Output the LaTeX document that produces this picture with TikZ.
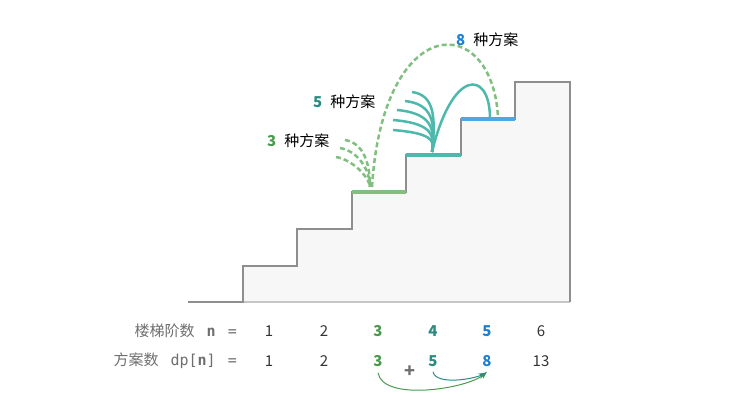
\documentclass[tikz,border=0pt]{standalone}
\usepackage{fontspec}
\setmainfont{Noto Sans CJK SC}
\setmonofont{DejaVu Sans Mono}
\usetikzlibrary{arrows.meta, calc}

\definecolor{stairfill}{HTML}{F7F7F7}
\definecolor{stairline}{HTML}{8E8E8E}
\definecolor{labelgray}{HTML}{6E6E6E}
\definecolor{numgray}{HTML}{333333}
\definecolor{waygreen}{HTML}{4A9A4E}
\definecolor{stepgreen}{HTML}{80BF80}
\definecolor{wayteal}{HTML}{2B8A80}
\definecolor{stepteal}{HTML}{4DB8AB}
\definecolor{wayblue}{HTML}{1F80D0}
\definecolor{stepblue}{HTML}{4AA8EC}

\begin{document}
\begin{tikzpicture}[x=1pt, y=-1pt, >=Stealth,
    txt/.style={font=\fontsize{15}{17}\selectfont, inner sep=0pt},
    num/.style={txt, text=numgray},
    bnum/.style={txt, font=\fontsize{15}{17}\selectfont\bfseries},
    rowlabel/.style={txt, text=labelgray, anchor=east}]
    \useasboundingbox (0,0) rectangle (755,402);

    % Stairs
    \fill[stairfill] (243,302) -- (243,266) -- (297,266) -- (297,229) -- (352,229)
        -- (352,192) -- (406,192) -- (406,155) -- (461,155) -- (461,119)
        -- (515,119) -- (515,82) -- (570,82) -- (570,302) -- cycle;
    \draw[stairline!50, line width=1.2] (243,302) -- (570,302);
    \draw[stairline, line width=1.4] (188,302) -- (243,302) -- (243,266) -- (297,266)
        -- (297,229) -- (352,229) -- (352,192) -- (406,192) -- (406,155)
        -- (461,155) -- (461,119) -- (515,119) -- (515,82) -- (570,82) -- (570,302);

    % Highlighted steps
    \draw[stepgreen, line width=4.5] (352,192) -- (406,192);
    \draw[stepteal, line width=4.5] (406,155) -- (461,155);
    \draw[stepblue, line width=4.5] (461,119) -- (515,119);

    % Ways to reach step 3
    \foreach \sx/\sy in {345/140, 340/148, 336/157}
        \draw[stepgreen, line width=2.5, dash pattern=on 5pt off 3pt]
            (\sx,\sy) .. controls ({\sx+18},{\sy+3}) and (370,{\sy+22}) .. (370,187);

    % Ways to reach step 4
    \foreach \sx/\sy in {412/92, 405/101, 397/110, 393/120, 393/130}
        \draw[stepteal, line width=2.5]
            (\sx,\sy) .. controls ({\sx+0.7*(432-\sx)+8},{\sy+3}) and (436,{\sy+0.4*(152-\sy)}) .. (432,152);
    \draw[stepteal, line width=2.5] (432,152) .. controls (452,69) and (489,69) .. (490,117);

    % Jump from step 3 to step 5
    \draw[stepgreen, line width=2.5, dash pattern=on 5pt off 3pt]
        (372,187) .. controls (383,11) and (492,11) .. (498,117);

    % Labels
    \node[txt, anchor=west] (w3) at (267,141) {\textcolor{waygreen}{\textbf{3}}\hspace{8pt}种方案};
    \node[txt, anchor=west] (w5) at (313,102) {\textcolor{wayteal}{\textbf{5}}\hspace{8pt}种方案};
    \node[txt, anchor=west] (w8) at (456,40) {\textcolor{wayblue}{\textbf{8}}\hspace{8pt}种方案};

    % Table
    \node[rowlabel] (nlabel) at (237,331) {楼梯阶数\hspace{12pt}\texttt{\textbf{n}}\hspace{12pt}\texttt{=}};
    \node[rowlabel] (dlabel) at (237,361) {方案数\hspace{12pt}\texttt{dp[\textbf{n}]}\hspace{12pt}\texttt{=}};
    \node[num] (n1) at (269,331) {1};
    \node[num] (n2) at (324,331) {2};
    \node[bnum, text=waygreen] (n3) at (378,331) {3};
    \node[bnum, text=wayteal] (n4) at (433,331) {4};
    \node[bnum, text=wayblue] (n5) at (487,331) {5};
    \node[num] (n6) at (541,331) {6};
    \node[num] (d1) at (269,361) {1};
    \node[num] (d2) at (324,361) {2};
    \node[bnum, text=waygreen] (d3) at (378,361) {3};
    \node[bnum, text=wayteal] (d4) at (433,361) {5};
    \node[bnum, text=wayblue] (d5) at (487,361) {8};
    \node[num] (d6) at (541,361) {13};
    \node[bnum, text=labelgray, font=\fontsize{18}{18}\selectfont\bfseries] (plus) at (410,372) {+};

    % dp[5] = dp[3] + dp[4]
    \draw[->, waygreen, line width=1] ($(d3.south)+(0,6)$) .. controls +(5,29) and +(-20,17) .. ($(d5.south)+(0,5)$);
    \draw[->, wayteal, line width=1] ($(d4.south)+(0,5)$) .. controls +(3,14) and +(-12,6) .. ($(d5.south)+(-1,6)$);

\end{tikzpicture}
\end{document}
